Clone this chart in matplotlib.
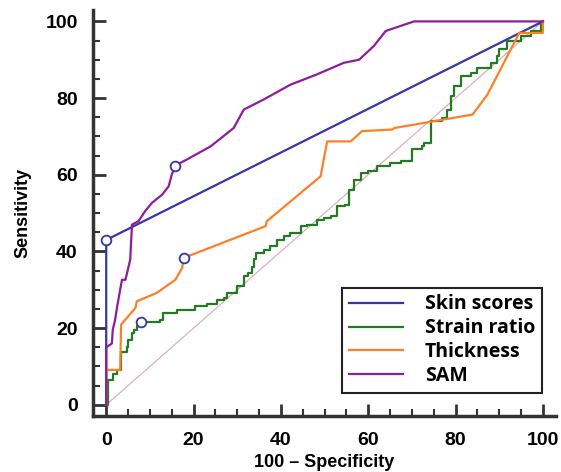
import numpy as np
import matplotlib.pyplot as plt
from matplotlib.ticker import MultipleLocator

plt.rcParams['font.family'] = ['Liberation Sans', 'DejaVu Sans']

# ROC curves (100 - specificity, sensitivity)
skin_x = [0, 0, 100]
skin_y = [0, 43, 100]

sam_x = [0, 0, 1.3, 1.5, 2.0, 2.5, 3.6, 4.4, 5.5, 5.9, 7.4, 8.9, 10.5, 12.8, 14.3, 15.0, 15.8,
         18.5, 23.9, 29.2, 31.5, 36.0, 42.2, 48.3, 54.4, 57.9, 61.3, 64.0, 70.5, 100]
sam_y = [0, 15, 16, 19.6, 22, 25.6, 32.6, 32.6, 37.9, 47, 47.9, 50.5, 52.7, 54.8, 57, 60, 62.4,
         64, 67.4, 72.2, 77, 79.6, 83.5, 86.2, 89.2, 90, 93.6, 97.5, 100, 100]

thick_x = [0, 0, 3.2, 3.4, 6.7, 7.0, 11.6, 15.8, 17.4, 17.7, 36.5, 36.8, 49.1, 50.6, 56.0,
           58.6, 65.5, 66.0, 83.9, 87.3, 94.6, 100, 100]
thick_y = [0, 9.1, 9.1, 20.9, 25.3, 27, 29.2, 32.6, 35.7, 38.3, 46.6, 47.9, 59.6, 68.7, 68.7,
           71.4, 71.8, 72.2, 75.7, 80.9, 97, 97, 100]

strain_x = [0, 0.5, 0.5, 1.5, 2.4, 3.3, 4.7, 5.1, 5.9, 6.3, 7.0, 7.8, 12.4, 13.1, 16.2, 20.4,
            23.1, 25.4, 26.9, 27.7, 30.0, 31.5, 32.5, 33.3, 33.8, 34.2, 36.1, 37.6, 39.2, 40.7,
            42.2, 44.5, 46.0, 48.3, 49.8, 51.4, 52.9, 54.8, 55.6, 56.7, 58.3, 60.0, 62.1, 65.1,
            67.4, 70.1, 72.4, 72.8, 74.3, 74.3, 77.0, 78.1, 78.9, 79.7, 81.2, 83.5, 85.0, 88.1,
            89.6, 90.0, 91.9, 95.0, 97.2, 99.5, 100]
strain_y = [0, 4.6, 6.5, 8.1, 9.1, 13.9, 15.2, 17, 18.7, 19.6, 20.5, 21.7, 22.2, 23.9, 24.8, 25.8,
            26.4, 27.4, 27.8, 29.2, 30.9, 33.5, 34.4, 36, 37.9, 39.6, 40.5, 41.3, 43.1, 44,
            44.8, 46.6, 47, 48.3, 48.6, 49.2, 51.8, 52.2, 56.1, 58.7, 60.5, 61, 62.2, 63.1,
            63.5, 66.6, 67.4, 68.3, 69.2, 74, 74.8, 77, 80.5, 83.1, 85.8, 86.6, 87.9, 89.2,
            90.9, 92.7, 94.9, 96.2, 97.5, 99.6, 100]

# optimal criterion points
crit_x = [0, 15.8, 17.7, 8.0]
crit_y = [43, 62.4, 38.3, 21.7]

blue = '#3636a8'
green = '#237a23'
orange = '#ff7f27'
purple = '#8e1c9e'

fig = plt.figure(figsize=(5.61, 4.72), dpi=100)
ax = fig.add_axes([0.166, 0.118, 0.825, 0.861])

ax.plot([0, 100], [0, 100], color='#d9a8b8', lw=0.8, zorder=1)
ax.plot(skin_x, skin_y, color=blue, lw=1.6, label='Skin scores', zorder=3)
ax.plot(strain_x, strain_y, color=green, lw=1.6, drawstyle='steps-post', label='Strain ratio', zorder=3)
ax.plot(thick_x, thick_y, color=orange, lw=1.6, label='Thickness', zorder=3)
ax.plot(sam_x, sam_y, color=purple, lw=1.6, label='SAM', zorder=4)
ax.plot(crit_x, crit_y, 'o', ms=7, mfc='white', mec=blue, mew=1.3, zorder=5)

ax.set_xlim(-3, 103)
ax.set_ylim(-3, 103)
ax.xaxis.set_major_locator(MultipleLocator(20))
ax.yaxis.set_major_locator(MultipleLocator(20))
ax.xaxis.set_minor_locator(MultipleLocator(5))
ax.yaxis.set_minor_locator(MultipleLocator(5))
ax.tick_params(which='major', direction='in', length=9, width=2, color='#333333',
               labelsize=14, pad=11)
ax.tick_params(which='minor', direction='in', length=5, width=1.5, color='#333333')
for lab in ax.get_xticklabels() + ax.get_yticklabels():
    lab.set_fontweight('bold')

for s in ['top', 'right']:
    ax.spines[s].set_visible(False)
for s in ['left', 'bottom']:
    ax.spines[s].set_linewidth(2.5)
    ax.spines[s].set_color('#333333')

ax.set_xlabel('100 – Specificity', fontsize=13, fontweight='bold', labelpad=4)
ax.set_ylabel('Sensitivity', fontsize=13, fontweight='bold', labelpad=10)

leg = ax.legend(loc='lower right', bbox_to_anchor=(0.970, 0.0575), fancybox=False,
                edgecolor='#222222', framealpha=1, handlelength=2.8, handletextpad=1.1,
                labelspacing=0.2, borderpad=0.35, borderaxespad=0,
                prop={'family': 'Open Sans', 'weight': 'bold', 'size': 14})
leg.get_frame().set_linewidth(1.5)

fig.savefig('out.png', dpi=100)
